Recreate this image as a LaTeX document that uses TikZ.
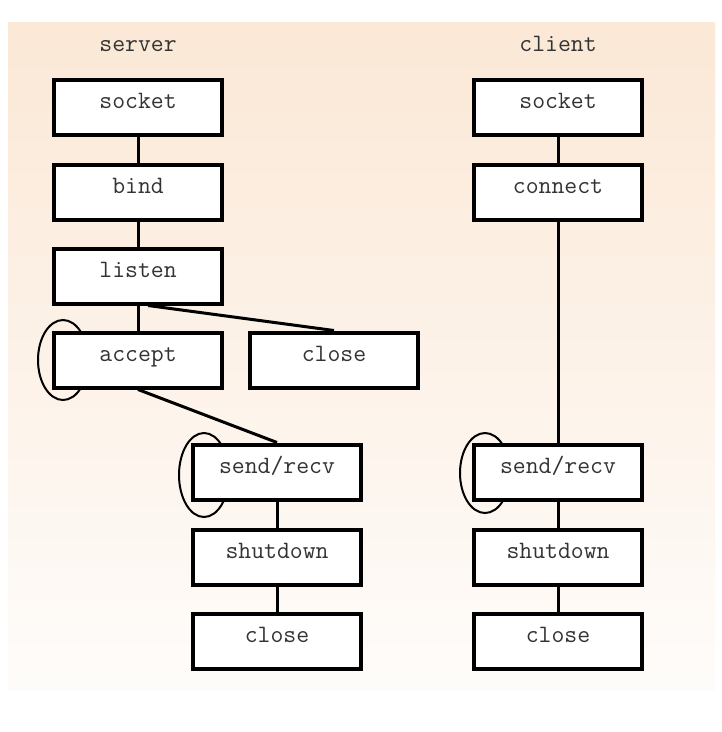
\documentclass[tikz,border=0pt]{standalone}
\definecolor{bgtop}{HTML}{FBE8D6}
\definecolor{bgbot}{HTML}{FEFCFA}
\definecolor{txt}{HTML}{333333}
\begin{document}
\begin{tikzpicture}[x=1pt,y=-1pt,
  box/.style={draw=black,line width=4pt,fill=white,minimum width=168pt,minimum height=55pt,
    inner sep=0pt,text height=14pt,text depth=12pt,font=\ttfamily\fontsize{25}{27}\selectfont,text=txt},
  lbl/.style={font=\ttfamily\fontsize{25}{27}\selectfont,text=txt,text height=14pt,text depth=6pt,inner sep=0pt},
  conn/.style={line width=3pt},
  loopy/.style={line width=2pt}]
\useasboundingbox (0,0) rectangle (722,732);
\shade[top color=bgtop,bottom color=bgbot] (8,22) rectangle (715,690);
% labels
\node[lbl] (srvlbl) at (138,47) {server};
\node[lbl] (clilbl) at (558,47) {client};
% loops (behind boxes)
\draw[loopy] (63,360) ellipse [x radius=25,y radius=40];
\draw[loopy] (204,475) ellipse [x radius=25,y radius=42];
\draw[loopy] (485,473) ellipse [x radius=25,y radius=40];
% server
\node[box] (ssock) at (138,107) {socket};
\node[box] (sbind) at (138,192) {bind};
\node[box] (slist) at (138,276) {listen};
\node[box] (sacc)  at (138,360) {accept};
\node[box] (sclo1) at (334,360) {close};
\node[box] (ssr)   at (277,472) {send/recv};
\node[box] (sshut) at (277,557) {shutdown};
\node[box] (sclo2) at (277,641) {close};
% client
\node[box] (csock) at (558,107) {socket};
\node[box] (cconn) at (558,192) {connect};
\node[box] (csr)   at (558,472) {send/recv};
\node[box] (cshut) at (558,557) {shutdown};
\node[box] (cclo)  at (558,641) {close};
% connectors
\draw[conn] (ssock) -- (sbind);
\draw[conn] (sbind) -- (slist);
\draw[conn] (slist) -- (sacc);
\draw[conn] ([xshift=10pt]slist.south) -- (sclo1.north);
\draw[conn] (sacc.south) -- (ssr.north);
\draw[conn] (ssr) -- (sshut);
\draw[conn] (sshut) -- (sclo2);
\draw[conn] (csock) -- (cconn);
\draw[conn] (cconn) -- (csr);
\draw[conn] (csr) -- (cshut);
\draw[conn] (cshut) -- (cclo);
\end{tikzpicture}
\end{document}
